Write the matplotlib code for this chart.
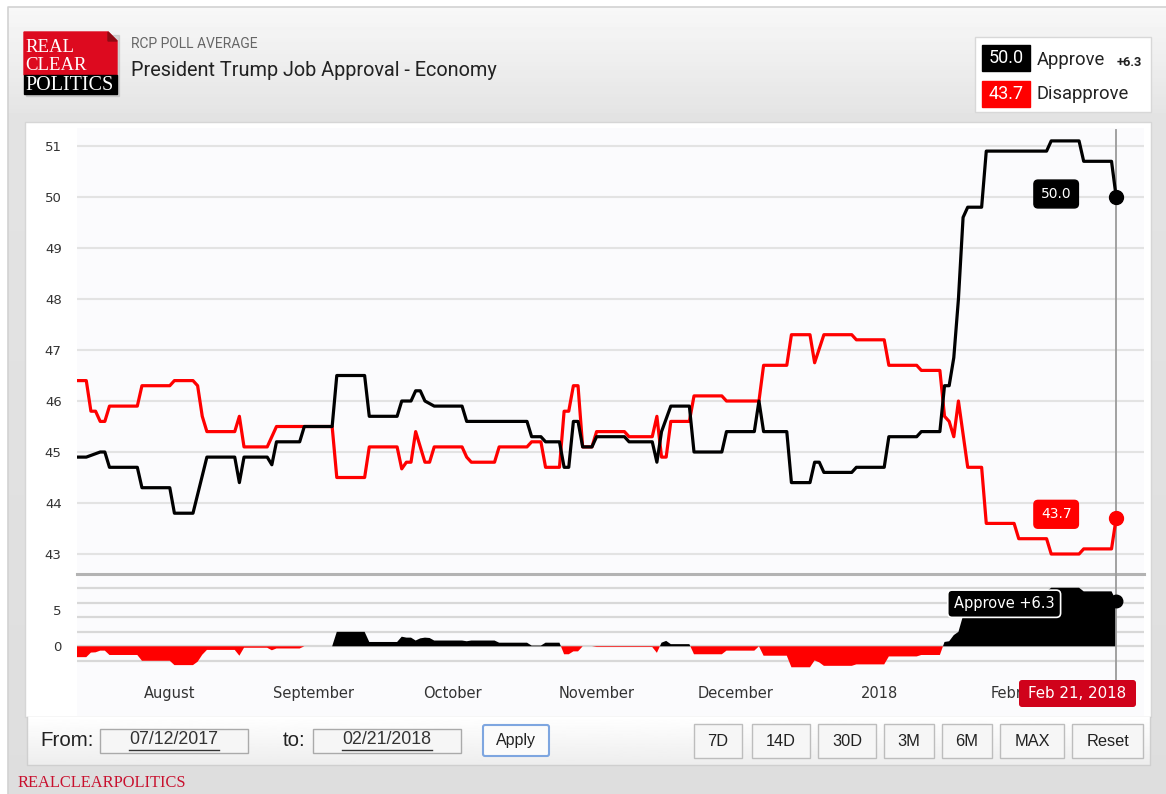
import numpy as np
import pandas as pd
import matplotlib
matplotlib.use("Agg")
import matplotlib.pyplot as plt
from matplotlib.patches import Rectangle, FancyBboxPatch, Polygon

# poll averages, breakpoints as days after 2017-07-12
start = pd.Timestamp("2017-07-12")
approve_days = [0, 2, 5, 6, 7, 13, 14, 20, 21, 25, 28, 34, 35, 36, 41, 42, 43, 48, 49, 55,
                56, 62, 63, 69, 70, 72, 73, 74, 75, 77, 83, 84, 97, 98, 100, 101, 104, 105, 106, 107,
                108, 109, 111, 112, 118, 119, 124, 125, 126, 128, 132, 133, 139, 140, 146, 147, 148, 153, 154, 158,
                159, 160, 161, 167, 168, 174, 175, 181, 182, 186, 187, 188, 189, 190, 191, 192, 195, 196, 209, 210,
                216, 217, 223, 224]
approve_vals = [44.9, 44.9, 45.0, 45.0, 44.7, 44.7, 44.3, 44.3, 43.8, 43.8, 44.9, 44.9, 44.4, 44.9, 44.9, 44.75, 45.2, 45.2, 45.5, 45.5,
                46.5, 46.5, 45.7, 45.7, 46.0, 46.0, 46.2, 46.2, 46.0, 45.9, 45.9, 45.6, 45.6, 45.3, 45.3, 45.2, 45.2, 44.7, 44.7, 45.6,
                45.6, 45.1, 45.1, 45.3, 45.3, 45.2, 45.2, 44.8, 45.4, 45.9, 45.9, 45.0, 45.0, 45.4, 45.4, 46.0, 45.4, 45.4, 44.4, 44.4,
                44.8, 44.8, 44.6, 44.6, 44.7, 44.7, 45.3, 45.3, 45.4, 45.4, 46.3, 46.3, 46.85, 48.0, 49.6, 49.8, 49.8, 50.9, 50.9, 51.1,
                51.1, 50.7, 50.7, 50.0]
disapprove_days = [0, 2, 3, 4, 5, 6, 7, 13, 14, 20, 21, 25, 26, 27, 28, 34, 35, 36, 41, 43,
                   55, 56, 62, 63, 69, 70, 71, 72, 73, 75, 76, 77, 83, 84, 85, 90, 91, 97, 98, 100,
                   101, 104, 105, 106, 107, 108, 109, 111, 112, 118, 119, 124, 125, 126, 127, 128, 132, 133, 139, 140,
                   147, 148, 153, 154, 158, 159, 161, 167, 168, 174, 175, 181, 182, 186, 187, 188, 189, 190, 192, 195,
                   196, 202, 203, 209, 210, 216, 217, 223, 224]
disapprove_vals = [46.4, 46.4, 45.8, 45.8, 45.6, 45.6, 45.9, 45.9, 46.3, 46.3, 46.4, 46.4, 46.3, 45.7, 45.4, 45.4, 45.7, 45.1, 45.1, 45.5,
                   45.5, 44.5, 44.5, 45.1, 45.1, 44.67, 44.8, 44.8, 45.4, 44.8, 44.8, 45.1, 45.1, 44.9, 44.8, 44.8, 45.1, 45.1, 45.2, 45.2,
                   44.7, 44.7, 45.8, 45.8, 46.3, 46.3, 45.1, 45.1, 45.4, 45.4, 45.3, 45.3, 45.7, 44.9, 44.9, 45.6, 45.6, 46.1, 46.1, 46.0,
                   46.0, 46.7, 46.7, 47.3, 47.3, 46.75, 47.3, 47.3, 47.2, 47.2, 46.7, 46.7, 46.6, 46.6, 45.7, 45.6, 45.3, 46.0, 44.7, 44.7,
                   43.6, 43.6, 43.3, 43.3, 43.0, 43.0, 43.1, 43.1, 43.7]

month_ticks = ["2017-08-01", "2017-09-01", "2017-10-01", "2017-11-01", "2017-12-01", "2018-01-01", "2018-02-01"]
month_labels = ["August", "September", "October", "November", "December", "2018", "February"]
main_yticks = [43, 44, 45, 46, 47, 48, 49, 50, 51]
spread_yticks = [0, 5]
spread_grid = [-2, 0, 2, 4, 6, 8]
buttons = ["7D", "14D", "30D", "3M", "6M", "MAX", "Reset"]
from_date = "07/12/2017"
to_date = "02/21/2018"

W, H = 1166, 794
RED = "#ff0000"
RCP_RED = "#d0021b"

a_dates = start + pd.to_timedelta(approve_days, unit="D")
d_dates = start + pd.to_timedelta(disapprove_days, unit="D")
all_days = np.union1d(approve_days, disapprove_days)
spread = np.interp(all_days, approve_days, approve_vals) - np.interp(all_days, disapprove_days, disapprove_vals)
s_dates = start + pd.to_timedelta(all_days, unit="D")
last = a_dates[-1]
xlim = (start, start + pd.Timedelta(days=230))


def px_axes(x0, y0, x1, y1, z):
    return fig.add_axes([x0 / W, 1 - y1 / H, (x1 - x0) / W, (y1 - y0) / H], zorder=z)


fig = plt.figure(figsize=(W / 100, H / 100), dpi=100)

# page background
bg = fig.add_axes([0, 0, 1, 1], zorder=0)
bg.set_xlim(0, W)
bg.set_ylim(H, 0)
bg.axis("off")
ys = np.linspace(7, H, 200)
shade = np.interp(ys, [7, 120, 794], [0.97, 0.89, 0.87])
bg.imshow(shade[:, None], cmap="gray", vmin=0, vmax=1, aspect="auto",
          extent=[8, W, H, 7], zorder=0)
bg.plot([8, 8, W], [H, 7, 7], color="#d2d2d2", lw=1.2, zorder=1)

# logo
bg.add_patch(Rectangle((26, 35), 93, 61, color="#b8b8b8", alpha=0.5, zorder=1))
bg.add_patch(Polygon([(24, 32), (108, 32), (117, 41), (117, 75), (24, 75)], color="#dd0a1f", zorder=2))
bg.add_patch(Polygon([(108, 32), (117, 41), (108, 41)], color="#8e0a14", zorder=3))
bg.add_patch(Rectangle((24, 75), 93, 19, color="black", zorder=2))
for txt, yy, fs in [("REAL", 48, 13.5), ("CLEAR", 66, 13.5), ("POLITICS", 85, 14.5)]:
    bg.text(25, yy, txt, color="white", family="Liberation Serif", fontsize=fs,
            va="center", ha="left", zorder=4)

bg.text(131, 44, "RCP POLL AVERAGE", family="Roboto", fontsize=10, color="#666666", va="center")
bg.text(131, 70, "President Trump Job Approval - Economy", family="Roboto", fontsize=14.3,
        color="#222222", va="center")

# legend box
bg.add_patch(Rectangle((975, 37), 176, 75, facecolor="white", edgecolor="#d8d8d8", lw=1, zorder=2))
bg.add_patch(Rectangle((982, 45), 48, 26, color="black", zorder=3))
bg.add_patch(Rectangle((982, 81), 48, 26, color=RED, zorder=3))
bg.text(1006, 58, f"{approve_vals[-1]:.1f}", color="white", family="Roboto", fontsize=13,
        ha="center", va="center", zorder=4)
bg.text(1006, 94, f"{disapprove_vals[-1]:.1f}", color="white", family="Roboto", fontsize=13,
        ha="center", va="center", zorder=4)
bg.text(1037, 60, "Approve", color="#222222", family="Roboto", fontsize=13.2, va="center", zorder=4)
bg.text(1037, 94, "Disapprove", color="#222222", family="Roboto", fontsize=13.2, va="center", zorder=4)
bg.text(1117, 62, f"+{spread[-1]:.1f}", color="#222222", family="Roboto", fontsize=9.3,
        fontweight="bold", va="center", zorder=4)

# chart panel
bg.add_patch(Rectangle((25, 122), 1126, 595, facecolor="white", edgecolor="#d6d6d6", lw=1, zorder=2))
bg.add_patch(Rectangle((77, 128), 1067, 588, facecolor="#fbfbfd", edgecolor="none", zorder=3))

# controls strip
ctrl = np.linspace(1.0, 0.93, 50)
bg.imshow(ctrl[:, None], cmap="gray", vmin=0, vmax=1, aspect="auto",
          extent=[27, 1150, 765, 717], zorder=2)
bg.plot([27, 27, 1150, 1150], [717, 765, 765, 717], color="#cfcfcf", lw=1, zorder=3)
bg.text(40, 741, "From:", family="Liberation Sans", fontsize=14.8, color="#222222", va="center", zorder=4)
bg.text(283, 741, "to:", family="Liberation Sans", fontsize=14.8, color="#222222", va="center", zorder=4)
for x0, label in [(100, from_date), (313, to_date)]:
    bg.add_patch(Rectangle((x0, 729), 148, 24, facecolor="#f6f6f6", edgecolor="#aaaaaa", lw=1, zorder=4))
    bg.text(x0 + 74, 740, label, family="Liberation Sans", fontsize=12.8, color="#333333",
            ha="center", va="center", zorder=5)
    bg.plot([x0 + 29, x0 + 119], [750, 750], color="#333333", lw=1, zorder=5)
bg.add_patch(FancyBboxPatch((483, 725), 66, 31, boxstyle="round,pad=0,rounding_size=2",
                            facecolor="#fbfbfb", edgecolor="#7ea6e0", lw=1.5, zorder=4))
bg.text(516, 741, "Apply", family="Liberation Sans", fontsize=11.5, color="#222222",
        ha="center", va="center", zorder=5)
btn_x = [694, 752, 818, 884, 942, 1000, 1072]
btn_w = [48, 58, 58, 50, 50, 64, 71]
for x0, w, label in zip(btn_x, btn_w, buttons):
    bg.add_patch(Rectangle((x0, 724), w, 34, facecolor="#f6f6f6", edgecolor="#bdbdbd", lw=1, zorder=4))
    bg.text(x0 + w / 2, 741, label, family="Liberation Sans", fontsize=11.8, color="#222222",
            ha="center", va="center", zorder=5)
bg.text(18, 783, "REALCLEARPOLITICS", family="Liberation Serif", fontsize=11.8,
        color="#c8102e", va="center", zorder=4)

# main panel
ax1 = px_axes(77, 128, 1144, 574, 2)
ax1.patch.set_visible(False)
ax1.plot(d_dates, disapprove_vals, color=RED, lw=2.3, solid_joinstyle="round")
ax1.plot(a_dates, approve_vals, color="black", lw=2.3, solid_joinstyle="round")
ax1.set_xlim(xlim)
ax1.set_ylim(42.608, 51.353)
ax1.set_yticks(main_yticks)
ax1.set_yticklabels([str(v) for v in main_yticks])
ax1.tick_params(axis="y", length=0, pad=11, labelsize=9.5, labelcolor="#333333")
ax1.set_xticks([])
ax1.hlines(main_yticks, xlim[0], xlim[1], color="#e3e3e3", lw=1.5, zorder=0)
for s in ax1.spines.values():
    s.set_visible(False)
ax1.axvline(last, color="#9a9a9a", lw=1.3, ymax=0.995, zorder=1)
ax1.plot([last], [approve_vals[-1]], "o", color="black", ms=10, zorder=5)
ax1.plot([last], [disapprove_vals[-1]], "o", color=RED, ms=10, zorder=5)
ax1.annotate(f"{approve_vals[-1]:.1f}", (last, approve_vals[-1]), xytext=(-60, 3),
             textcoords="offset pixels", ha="center", va="center", color="white", fontsize=10,
             bbox=dict(boxstyle="round,pad=0.5,rounding_size=0.3", fc="black", ec="black"))
ax1.annotate(f"{disapprove_vals[-1]:.1f}", (last, disapprove_vals[-1]), xytext=(-60, 4),
             textcoords="offset pixels", ha="center", va="center", color="white", fontsize=10,
             bbox=dict(boxstyle="round,pad=0.5,rounding_size=0.3", fc=RED, ec=RED))

# spread panel
ax2 = px_axes(77, 574, 1144, 668, 3)
ax2.patch.set_visible(False)
ax2.set_xlim(xlim)
ax2.set_ylim(-3.0, 10.0)
ax2.hlines(spread_grid, xlim[0], xlim[1], color="#d8d8d8", lw=1.6, zorder=1)
ax2.fill_between(s_dates, spread, 0, where=spread >= 0, interpolate=True, color="black", lw=0, zorder=2)
ax2.fill_between(s_dates, spread, 0, where=spread <= 0, interpolate=True, color=RED, lw=0, zorder=2)
ax2.axhline(10.0, color="#b3b3b3", lw=2.2, zorder=1, clip_on=False)
ax2.set_yticks(spread_yticks)
ax2.set_yticklabels([str(v) for v in spread_yticks])
ax2.tick_params(axis="y", length=0, pad=11, labelsize=9.5, labelcolor="#333333")
ax2.set_xticks(pd.to_datetime(month_ticks))
ax2.set_xticklabels(month_labels)
ax2.tick_params(axis="x", length=0, pad=13, labelsize=10.5, labelcolor="#333333")
for s in ax2.spines.values():
    s.set_visible(False)
ax2.axvline(last, color="#9a9a9a", lw=1.3, ymin=-0.15, ymax=1, clip_on=False, zorder=3)
ax2.plot([last], [spread[-1]], "o", color="black", ms=9, zorder=5)
ax2.annotate(f"Approve +{spread[-1]:.1f}", (last, spread[-1]), xytext=(-112, -3),
             textcoords="offset pixels", ha="center", va="center", color="white", fontsize=10.5,
             bbox=dict(boxstyle="round,pad=0.42,rounding_size=0.3", fc="black", ec="white", lw=1.2),
             zorder=6)

# date flag on top
fg = fig.add_axes([0, 0, 1, 1], zorder=10)
fg.set_xlim(0, W)
fg.set_ylim(H, 0)
fg.axis("off")
fg.add_patch(FancyBboxPatch((1019, 680), 117, 27, boxstyle="round,pad=0,rounding_size=3",
                            facecolor=RCP_RED, edgecolor="none"))
fg.text(1077, 693.5, last.strftime("%b %d, %Y").replace(" 0", " "), color="white", fontsize=10.8,
        ha="center", va="center")

fig.savefig("out.png", dpi=100)
